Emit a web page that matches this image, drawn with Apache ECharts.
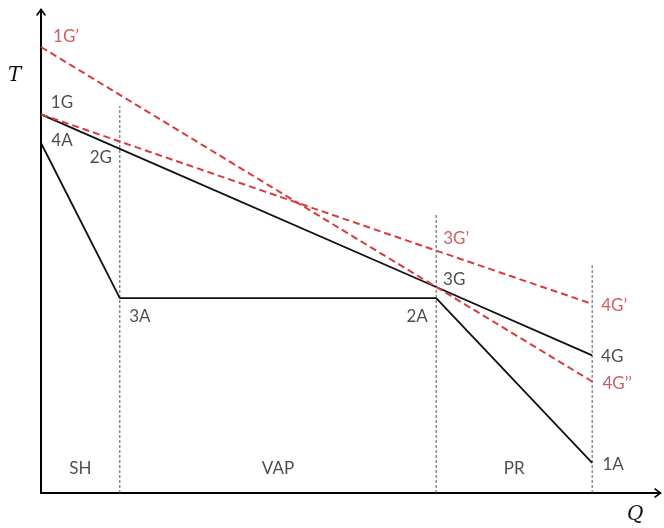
<!DOCTYPE html>
<html>
<head>
<meta charset="utf-8">
<script src="https://cdn.jsdelivr.net/npm/echarts@6/dist/echarts.min.js"></script>
<style>
  html, body { margin: 0; padding: 0; background: #fff; }
  #chart { width: 664px; height: 528px; }
</style>
</head>
<body>
<div id="chart"></div>
<script>
// Heat-transfer (T–Q) diagram: hot gas cooling against a working fluid
// that is preheated (PR), vaporised (VAP) and superheated (SH).

// Hot gas profile 1G → 2G → 3G → 4G
const hotQ = [0, 14.3, 71.7, 100];
const hotT = [78.1, 71.0, 42.5, 28.4];
const hotNames = ['1G', '2G', '3G', '4G'];

// Working fluid profile 4A → 3A → 2A → 1A
const coldQ = [0, 14.3, 71.7, 100];
const coldT = [72.2, 40.2, 40.2, 6.2];
const coldNames = ['4A', '3A', '2A', '1A'];

// Alternative gas profile with lower flow: 1G → 3G' → 4G'
const altLowQ = [0, 71.7, 100];
const altLowT = [78.1, 50.0, 39.0];
const altLowNames = ['', '3G\u2019', '4G\u2019'];

// Alternative gas profile with higher inlet temperature: 1G' → 3G → 4G''
const altHighQ = [0, 71.7, 100];
const altHighT = [92.0, 42.5, 23.0];
const altHighNames = ['1G\u2019', '', '4G\u2019\u2019'];

// Section boundaries and their dotted guide heights
const boundaryQ = [14.3, 71.7, 100];
const boundaryTop = [79.8, 57.7, 47.0];

// Section names
const sectionNames = ['SH', 'VAP', 'PR'];
const sectionQ = [7.15, 43.0, 85.85];
const sectionT = 5.15;

// Label placement (pixel offsets from each point)
const labelOffsets = {
  '1G': [21, -12], '2G': [-19, 9], '3G': [18, -7], '4G': [20, 1],
  '4A': [21, -2], '3A': [20, 18], '2A': [-19, 18], '1A': [21, 2],
  '3G\u2019': [20, -12], '4G\u2019': [22, 2],
  '1G\u2019': [25, -10], '4G\u2019\u2019': [25, 2]
};

const BLACK = '#111';
const RED_LINE = '#d83b3b';
const RED_TEXT = '#c2373a';
const TEXT = '#1e1e1e';
const FONT = 'Lato';
const FONT_SIZE = 17;

function pairs(qs, ts) {
  return qs.map((q, i) => [q, ts[i]]);
}

function labelSeries(qs, ts, names, color) {
  return {
    type: 'scatter',
    symbolSize: 0,
    silent: true,
    z: 5,
    data: qs.map((q, i) => ({
      value: [q, ts[i]],
      name: names[i],
      label: {
        show: names[i] !== '',
        formatter: names[i],
        offset: labelOffsets[names[i]] || [0, 0]
      }
    })),
    label: {
      position: [0, 0],
      align: 'center',
      verticalAlign: 'middle',
      color: color,
      fontFamily: FONT,
      fontSize: FONT_SIZE
    }
  };
}

const arrowPath = 'path://M5,0 L10,7 L8.8,8 L6,4.2 L6,14 L4,14 L4,4.2 L1.2,8 L0,7 Z';

const series = [];

// dotted section boundaries
boundaryQ.forEach((q, i) => {
  series.push({
    type: 'line',
    symbol: 'none',
    silent: true,
    z: 1,
    lineStyle: { color: '#555', width: 1, type: [3, 2] },
    data: [[q, 0], [q, boundaryTop[i]]]
  });
});

series.push({
  type: 'line', symbol: 'none', silent: true, z: 2,
  lineStyle: { color: BLACK, width: 1.8 },
  data: pairs(hotQ, hotT)
});
series.push({
  type: 'line', symbol: 'none', silent: true, z: 2,
  lineStyle: { color: BLACK, width: 1.8 },
  data: pairs(coldQ, coldT)
});
series.push({
  type: 'line', symbol: 'none', silent: true, z: 3,
  lineStyle: { color: RED_LINE, width: 2, type: [7, 4] },
  data: pairs(altLowQ, altLowT)
});
series.push({
  type: 'line', symbol: 'none', silent: true, z: 3,
  lineStyle: { color: RED_LINE, width: 2, type: [7, 4] },
  data: pairs(altHighQ, altHighT)
});

series.push(labelSeries(hotQ, hotT, hotNames, TEXT));
series.push(labelSeries(coldQ, coldT, coldNames, TEXT));
series.push(labelSeries(altLowQ, altLowT, altLowNames, RED_TEXT));
series.push(labelSeries(altHighQ, altHighT, altHighNames, RED_TEXT));
series.push({
  type: 'scatter',
  symbolSize: 0,
  silent: true,
  data: sectionQ.map((q, i) => ({ value: [q, sectionT], name: sectionNames[i] })),
  label: {
    show: true,
    formatter: p => p.name,
    position: [0, 0],
    align: 'center',
    verticalAlign: 'middle',
    color: TEXT,
    fontFamily: FONT,
    fontSize: FONT_SIZE
  }
});

const axisCommon = {
  type: 'value',
  min: 0,
  axisTick: { show: false },
  axisLabel: { show: false },
  splitLine: { show: false },
  axisLine: {
    show: true,
    onZero: false,
    symbol: ['none', arrowPath],
    symbolSize: [11, 14],
    lineStyle: { color: '#000', width: 2 }
  }
};

const chart = echarts.init(document.getElementById('chart'), null, { renderer: 'canvas' });
chart.setOption({
  animation: false,
  backgroundColor: '#fff',
  grid: { left: 41, right: 9, top: 15, bottom: 35 },
  xAxis: Object.assign({}, axisCommon, { max: 111.4 }),
  yAxis: Object.assign({}, axisCommon, { max: 98.6 }),
  graphic: [
    {
      type: 'text', left: 8, top: 66,
      style: { text: 'T', font: 'italic 20px "DejaVu Serif"', fill: '#111' }
    },
    {
      type: 'text', left: 627, top: 505,
      style: { text: 'Q', font: 'italic 20px "DejaVu Serif"', fill: '#111' }
    }
  ],
  series: series
});
</script>
</body>
</html>
